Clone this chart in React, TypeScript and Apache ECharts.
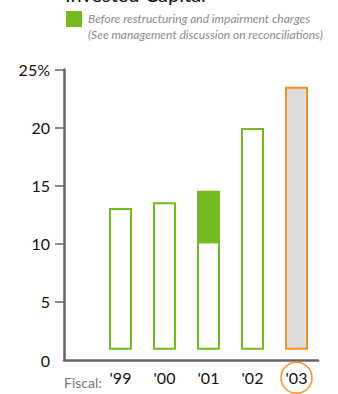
import React, { useEffect, useRef } from "react";
import * as echarts from "echarts";

// Fiscal years and return on invested capital (%)
const years = ["'99", "'00", "'01", "'02", "'03"];
const reportedRoic = [12.9, 13.4, 10.0, 19.9, 23.5];
// Value before restructuring and impairment charges (only where it differs)
const beforeCharges: (number | null)[] = [null, null, 14.4, null, null];
const yTicks = [0, 5, 10, 15, 20, 25];

const GREEN = "#74bb20";
const ORANGE = "#f8901c";
const AXIS = "#666666";
const FONT = "Lato, 'Open Sans', sans-serif";

export default function App() {
  const ref = useRef<HTMLDivElement>(null);

  useEffect(() => {
    document.body.style.margin = "0";
    if (!ref.current) return;
    const chart = echarts.init(ref.current, undefined, { renderer: "svg" });

    const lastIdx = years.length - 1;

    const option: echarts.EChartsOption = {
      animation: false,
      grid: [
        { left: 64, right: 20, top: 69.5, bottom: 34 },
        { left: 98.5, right: 19.5, top: 69.5, bottom: 34 },
      ],
      xAxis: [
        {
          type: "category",
          gridIndex: 0,
          data: [""],
          axisLine: { show: true, lineStyle: { color: AXIS, width: 2.5 } },
          axisTick: { show: false },
          axisLabel: { show: false },
        },
        {
          type: "category",
          gridIndex: 1,
          data: years,
          axisLine: { show: false },
          axisTick: { show: false },
          axisLabel: {
            interval: 0,
            hideOverlap: false,
            fontSize: 16,
            color: "#111",
            fontFamily: FONT,
            margin: 22,
            verticalAlign: "middle",
            formatter: (v: string, i: number) =>
              i === lastIdx ? `{cur|${v}}` : v,
            rich: {
              cur: {
                fontSize: 16,
                color: "#111",
                fontFamily: FONT,
                width: 31,
                height: 31,
                lineHeight: 31,
                align: "center",
                borderRadius: 16,
                borderColor: ORANGE,
                borderWidth: 1.5,
              },
            },
          },
        },
      ],
      yAxis: [
        {
          type: "value",
          gridIndex: 0,
          min: yTicks[0],
          max: yTicks[yTicks.length - 1],
          interval: 5,
          axisLine: { show: true, lineStyle: { color: AXIS, width: 2.5 } },
          axisTick: {
            show: true,
            length: 9,
            customValues: yTicks.slice(1),
            lineStyle: { color: AXIS, width: 1.5 },
          },
          axisLabel: {
            fontSize: 16,
            color: "#111",
            fontFamily: FONT,
            margin: 14,
            formatter: (v: number) =>
              v === yTicks[yTicks.length - 1] ? `${v}%` : String(v),
          },
          splitLine: { show: false },
        },
        {
          type: "value",
          gridIndex: 1,
          min: yTicks[0],
          max: yTicks[yTicks.length - 1],
          show: false,
          splitLine: { show: false },
        },
      ],
      series: [
        {
          type: "custom",
          xAxisIndex: 1,
          yAxisIndex: 1,
          data: years.map((_, i) => [i, reportedRoic[i], beforeCharges[i] ?? 0]),
          renderItem: (params: any, api: any) => {
            const idx = api.value(0);
            const val = api.value(1);
            const adj = api.value(2);
            const top = api.coord([idx, val]);
            const base = api.coord([idx, 0]);
            const w = 21;
            const x = top[0] - w / 2;
            const bottom = base[1] - 7;
            const isCurrent = params.dataIndex === lastIdx;
            const children: any[] = [
              {
                type: "rect",
                shape: { x, y: top[1] + 1, width: w, height: bottom - top[1] - 1 },
                style: {
                  fill: isCurrent ? "#dcdcdc" : "#ffffff",
                  stroke: isCurrent ? ORANGE : GREEN,
                  lineWidth: 2,
                },
              },
            ];
            if (adj > val) {
              const adjTop = api.coord([idx, adj]);
              children.push({
                type: "rect",
                shape: { x, y: adjTop[1] + 1, width: w, height: top[1] - adjTop[1] },
                style: { fill: GREEN, stroke: GREEN, lineWidth: 2 },
              });
            }
            return { type: "group", children };
          },
        },
      ],
      graphic: [
        {
          type: "text",
          left: 65,
          top: -16,
          style: {
            text: "Invested Capital",
            fontSize: 20,
            fontFamily: FONT,
            fill: "#111",
          },
        },
        {
          type: "rect",
          shape: { x: 66, y: 11, width: 16, height: 16 },
          style: { fill: GREEN },
        },
        {
          type: "text",
          x: 88,
          y: 18,
          style: {
            text: "Before restructuring and impairment charges",
            fontSize: 12,
            fontStyle: "italic",
            fontFamily: FONT,
            fill: "#8a8a8a",
            verticalAlign: "middle",
          },
        },
        {
          type: "text",
          x: 88,
          y: 34,
          style: {
            text: "(See management discussion on reconciliations)",
            fontSize: 12,
            fontStyle: "italic",
            fontFamily: FONT,
            fill: "#8a8a8a",
            verticalAlign: "middle",
          },
        },
        {
          type: "text",
          x: 64,
          y: 382,
          style: {
            text: "Fiscal:",
            fontSize: 14,
            fontFamily: FONT,
            fill: "#777",
            verticalAlign: "middle",
          },
        },
      ],
    };

    chart.setOption(option);
    return () => chart.dispose();
  }, []);

  return <div ref={ref} style={{ width: 338, height: 394 }} />;
}
